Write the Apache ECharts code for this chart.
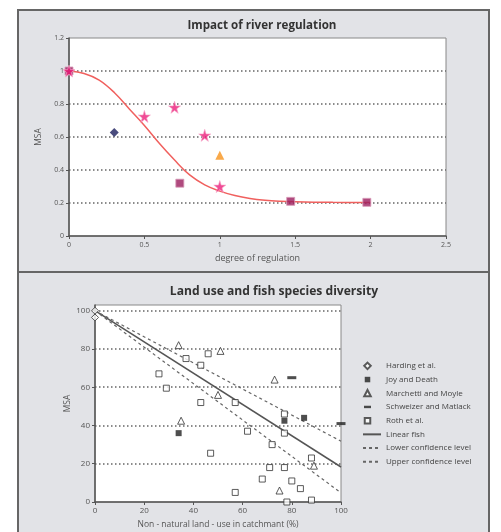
<!DOCTYPE html>
<html>
<head>
<meta charset="utf-8">
<script src="https://cdn.jsdelivr.net/npm/echarts@6/dist/echarts.min.js"></script>
<style>
html,body{margin:0;padding:0;background:#fff;}
#chart{width:501px;height:532px;}
</style>
</head>
<body>
<div id="chart"></div>
<script>
// ---------- Panel 1: Impact of river regulation ----------
const regStars = [[0, 1.0], [0.5, 0.725], [0.7, 0.78], [0.9, 0.61], [1.0, 0.30]];
const regDiamond = [[0.3, 0.627]];
const regTriangle = [[1.0, 0.49]];
const regSquares = [[0, 1.0], [0.735, 0.32], [1.47, 0.21], [1.975, 0.204]];
const regCurve = [[0, 1.0], [0.1, 0.985], [0.2, 0.945], [0.3, 0.87], [0.4, 0.77], [0.5, 0.67],
  [0.6, 0.56], [0.7, 0.46], [0.8, 0.37], [0.9, 0.31], [1.0, 0.272], [1.1, 0.245], [1.2, 0.227],
  [1.3, 0.216], [1.4, 0.21], [1.5, 0.207], [1.75, 0.204], [2.0, 0.203]];

// ---------- Panel 2: Land use and fish species diversity ----------
const legendNames = ['Harding et al.', 'Joy and Death', 'Marchetti and Moyle', 'Schweizer and Matlack',
  'Roth et al.', 'Linear fish', 'Lower confidence level', 'Upper confidence level'];
const harding = [[0, 100], [0, 96.5]];
const joyDeath = [[34, 36], [77, 42.5], [85, 44]];
const marchetti = [[34, 82], [51, 79], [35, 42.5], [50, 56], [73, 64], [89, 19], [75, 6]];
const schweizer = [[80, 65], [100, 41]];
const roth = [[26, 67], [29, 59.5], [37, 75], [43, 71.5], [46, 77.5], [43, 52], [47, 25.5], [57, 52],
  [57, 5], [62, 37], [68, 12], [71, 18], [72, 30], [77, 46], [77, 36], [77, 18], [80, 11],
  [83.5, 7], [88, 23], [88, 1], [78, 0]];
const linearFish = [[0, 100], [100, 18.3]];
const lowerConf = [[0, 100], [100, 4.8]];
const upperConf = [[0, 100], [100, 31.8]];

const FONT = 'Open Sans';
const starPath = 'path://M50,0 L61,35 L98,35 L68,57 L79,91 L50,70 L21,91 L32,57 L2,35 L39,35 Z';
// legend icons drawn inside a 36x14 box (the corners are bare moveTo points that only set the box)
const iconDiamond = 'path://M0,0 M36,14 M9,0.5 L15.5,7 L9,13.5 L2.5,7 Z';
const iconSquare = 'path://M0,0 M36,14 M3.5,1.5 L14.5,1.5 L14.5,12.5 L3.5,12.5 Z';
const iconTriangle = 'path://M0,0 M36,14 M9,0.5 L15.5,13 L2.5,13 Z';
const iconDash = 'path://M0,0 M36,14 M2,4.6 L16,4.6 L16,9.4 L2,9.4 Z';

const chart = echarts.init(document.getElementById('chart'), null, {renderer: 'canvas'});

function axisCommon(fs, nfs) {
  return {
    axisLine: {show: true, lineStyle: {color: '#555', width: 1.5}},
    axisTick: {show: true, length: 3, lineStyle: {color: '#555', width: 1}},
    axisLabel: {color: '#555', fontSize: fs, fontFamily: FONT, margin: 5},
    nameTextStyle: {color: '#555', fontSize: nfs, fontFamily: FONT}
  };
}
const dotted = {show: true, showMinLine: false, showMaxLine: false,
  lineStyle: {color: '#666', width: 1.5, type: [1.5, 2.5]}};
const hiddenSym = {color: 'rgba(0,0,0,0)', borderWidth: 0, opacity: 0};

const option = {
  animation: false,
  backgroundColor: '#fff',
  graphic: [
    {type: 'rect', z: -10, shape: {x: 18, y: 10, width: 471, height: 262},
      style: {fill: '#e2e3e7', stroke: '#666', lineWidth: 2}},
    {type: 'rect', z: -10, shape: {x: 18, y: 272, width: 471, height: 270},
      style: {fill: '#e2e3e7', stroke: '#666', lineWidth: 2}}
  ],
  title: [
    {text: 'Impact of river regulation', left: 257, top: 15, textAlign: 'center',
      textStyle: {fontSize: 11.6, fontWeight: 'bold', color: '#333', fontFamily: FONT}},
    {text: 'Land use and fish species diversity', left: 269, top: 281, textAlign: 'center',
      textStyle: {fontSize: 12.1, fontWeight: 'bold', color: '#333', fontFamily: FONT}}
  ],
  legend: {
    data: [
      {name: legendNames[0], icon: iconDiamond},
      {name: legendNames[1], icon: iconSquare},
      {name: legendNames[2], icon: iconTriangle},
      {name: legendNames[3], icon: iconDash},
      {name: legendNames[4], icon: iconSquare},
      {name: legendNames[5], itemStyle: hiddenSym},
      {name: legendNames[6], itemStyle: hiddenSym},
      {name: legendNames[7], itemStyle: hiddenSym}
    ],
    orient: 'vertical',
    left: 357, top: 354,
    itemWidth: 18, itemHeight: 7, itemGap: 0,
    textStyle: {color: '#444', fontSize: 8, fontFamily: FONT, lineHeight: 13.7},
    selectedMode: false
  },
  grid: [
    {left: 69, top: 38, width: 377, height: 198, show: true, backgroundColor: '#fff',
      borderColor: '#888', borderWidth: 1},
    {left: 95, top: 305, width: 246, height: 197, show: true, backgroundColor: '#fff',
      borderColor: '#888', borderWidth: 1}
  ],
  xAxis: [
    Object.assign(axisCommon(7, 9), {gridIndex: 0, type: 'value', min: 0, max: 2.5, interval: 0.5,
      name: 'degree of regulation', nameLocation: 'middle', nameGap: 18, splitLine: {show: false}}),
    Object.assign(axisCommon(8, 8.5), {gridIndex: 1, type: 'value', min: 0, max: 100, interval: 20,
      name: 'Non - natural land - use in catchmant (%)', nameLocation: 'middle', nameGap: 18,
      splitLine: {show: false}})
  ],
  yAxis: [
    Object.assign(axisCommon(7, 8.5), {gridIndex: 0, type: 'value', min: 0, max: 1.2, interval: 0.2,
      name: 'MSA', nameLocation: 'middle', nameGap: 24, nameRotate: 90, splitLine: dotted}),
    Object.assign(axisCommon(8, 8.5), {gridIndex: 1, type: 'value', min: 0, max: 103, interval: 20,
      name: 'MSA', nameLocation: 'middle', nameGap: 23, nameRotate: 90, splitLine: dotted})
  ],
  series: [
    {name: 'curve', type: 'line', xAxisIndex: 0, yAxisIndex: 0, data: regCurve, smooth: 0.4,
      symbol: 'none', lineStyle: {color: '#f0605e', width: 1.5}, z: 2},
    {name: 'squares', type: 'scatter', xAxisIndex: 0, yAxisIndex: 0, data: regSquares, symbol: 'rect',
      symbolSize: 8, itemStyle: {color: '#9b1d5e', borderColor: '#d89ab8', borderWidth: 1}, z: 3},
    {name: 'stars', type: 'scatter', xAxisIndex: 0, yAxisIndex: 0, data: regStars, symbol: starPath,
      symbolSize: 12, itemStyle: {color: '#ec1e7b', borderColor: '#f7a9c9', borderWidth: 0.8}, z: 4},
    {name: 'diamond', type: 'scatter', xAxisIndex: 0, yAxisIndex: 0, data: regDiamond, symbol: 'diamond',
      symbolSize: 9, itemStyle: {color: '#1d1f5e'}, z: 4},
    {name: 'triangle', type: 'scatter', xAxisIndex: 0, yAxisIndex: 0, data: regTriangle, symbol: 'triangle',
      symbolSize: 9, itemStyle: {color: '#f7941d'}, z: 4},

    {name: legendNames[5], type: 'line', xAxisIndex: 1, yAxisIndex: 1, data: linearFish, symbol: 'none',
      lineStyle: {color: '#555', width: 1.5}, itemStyle: {color: '#555'}, z: 2},
    {name: legendNames[6], type: 'line', xAxisIndex: 1, yAxisIndex: 1, data: lowerConf, symbol: 'none',
      lineStyle: {color: '#666', width: 1.2, type: [3, 3]}, itemStyle: {color: '#666'}, z: 2},
    {name: legendNames[7], type: 'line', xAxisIndex: 1, yAxisIndex: 1, data: upperConf, symbol: 'none',
      lineStyle: {color: '#666', width: 1.2, type: [3, 3]}, itemStyle: {color: '#666'}, z: 2},
    {name: legendNames[0], type: 'scatter', xAxisIndex: 1, yAxisIndex: 1, data: harding, symbol: 'diamond',
      symbolSize: 7, itemStyle: {color: '#fff', borderColor: '#333', borderWidth: 1}, z: 4},
    {name: legendNames[1], type: 'scatter', xAxisIndex: 1, yAxisIndex: 1, data: joyDeath, symbol: 'rect',
      symbolSize: 6, itemStyle: {color: '#222'}, z: 4},
    {name: legendNames[2], type: 'scatter', xAxisIndex: 1, yAxisIndex: 1, data: marchetti, symbol: 'triangle',
      symbolSize: 7, itemStyle: {color: '#fff', borderColor: '#333', borderWidth: 1}, z: 4},
    {name: legendNames[3], type: 'scatter', xAxisIndex: 1, yAxisIndex: 1, data: schweizer, symbol: 'rect',
      symbolSize: [9, 3], itemStyle: {color: '#222'}, z: 4},
    {name: legendNames[4], type: 'scatter', xAxisIndex: 1, yAxisIndex: 1, data: roth, symbol: 'rect',
      symbolSize: 6, itemStyle: {color: '#fff', borderColor: '#333', borderWidth: 1}, z: 4}
  ]
};
option.yAxis[1].axisLabel.showMaxLabel = false;
chart.setOption(option);
</script>
</body>
</html>
